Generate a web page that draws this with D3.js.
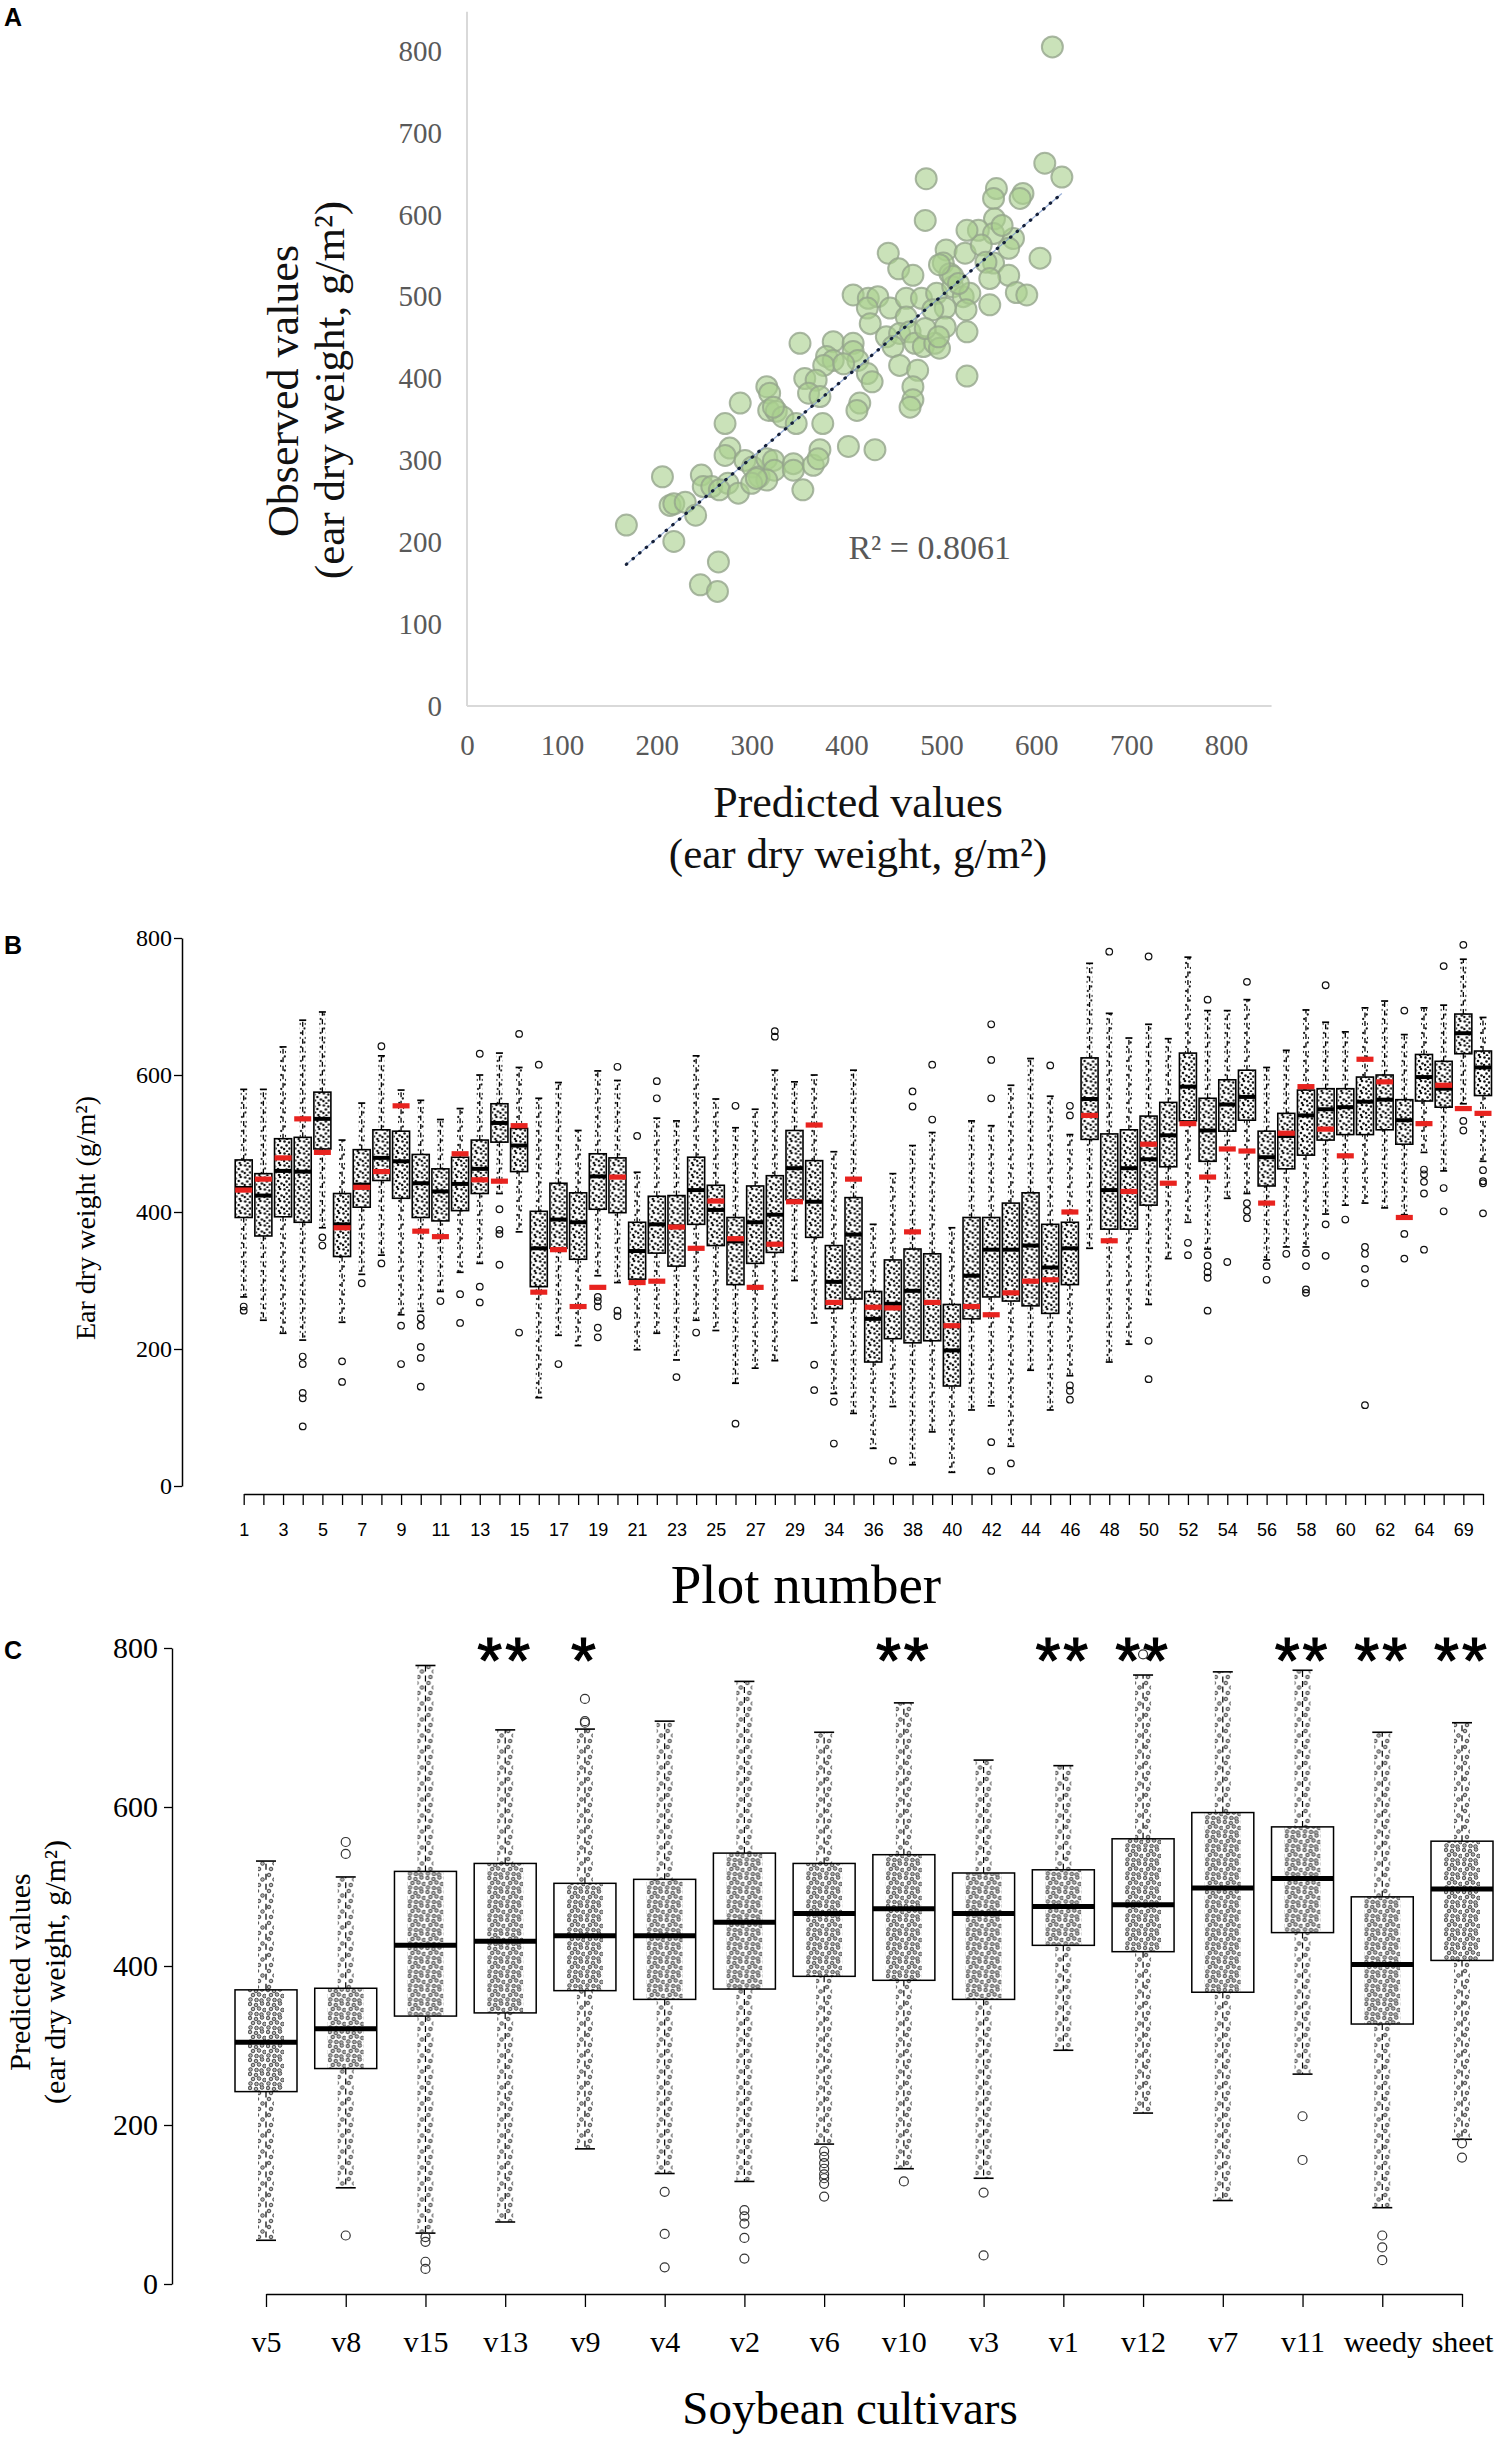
<!DOCTYPE html>
<html><head><meta charset="utf-8">
<script src="https://cdn.jsdelivr.net/npm/d3@7"></script>
<style>body{margin:0;background:#fff} svg{display:block}</style>
</head><body>
<svg id="chart" width="1501" height="2439"></svg>
<script>
// ================= DATA =================
// Panel A: predicted vs observed (ear dry weight, g/m2)
const predX = [609,627,484,558,555,586,583,483,556,539,555,576,571,604,444,505,525,555,455,470,502,509,571,579,590,551,407,423,433,422,446,463,479,495,512,523,530,526,504,491,425,463,504,527,351,386,407,379,386,376,407,412,422,427,442,456,449,467,472,481,493,498,456,475,470,470,467,527,356,368,360,372,316,319,318,326,333,288,414,411,347,375,272,402,430,277,272,293,301,308,316,323,324,316,344,344,365,372,370,354,206,247,249,258,275,266,286,300,305,214,218,230,241,168,218,265,246,264,512,518,498,542,547,551,564,527,483,497,397,323,617];
const obsY  = [663,646,644,632,620,626,620,593,595,581,577,571,559,547,553,557,553,541,534,526,541,528,526,505,502,490,502,498,500,486,486,498,498,504,512,500,504,484,486,484,467,475,463,457,443,445,443,427,422,416,433,422,406,396,451,455,439,457,443,439,443,437,416,410,390,374,365,403,400,398,382,378,390,382,361,360,353,370,370,361,345,345,345,317,313,315,306,300,292,280,302,300,288,276,296,288,294,313,302,264,280,282,268,268,272,264,260,272,278,245,247,249,233,221,201,176,148,140,525,516,539,563,542,522,587,581,461,451,418,365,805];
const trendX = [168, 627];
const trendY = [173, 626];
const r2Label = "R\u00B2 = 0.8061";
const r2Pos = [402, 194];
const aTicks = [0,100,200,300,400,500,600,700,800];
const aAxisMax = 848;

// Panel B: boxplots per plot number
const bPlots = ["1","2","3","4","5","6","7","8","9","10","11","12","13","14","15","16","17","18","19","20","21","22","23","24","25","26","27","28","29","30","34","35","36","37","38","39","40","41","42","43","44","45","46","47","48","49","50","51","52","53","54","55","56","57","58","59","60","61","62","63","64","65","69","70"];
const bLow  = [276,242,223,213,377,239,309,337,250,255,284,312,325,427,371,129,220,205,307,297,199,223,184,242,227,150,172,183,300,238,135,106,55,116,31,79,20,111,117,58,169,111,161,347,181,207,265,332,385,346,420,427,330,349,349,397,410,413,406,396,487,460,558,474];
const bQ1   = [392,365,393,385,492,335,407,446,420,392,387,402,427,502,459,291,347,331,404,399,302,340,321,382,351,294,325,341,418,363,259,273,181,215,209,212,146,244,276,270,263,252,294,506,375,375,410,466,533,474,518,534,438,463,483,505,513,513,520,499,562,553,631,570];
const bMed  = [435,424,460,459,536,382,440,479,474,442,430,441,463,530,497,347,389,385,452,451,343,382,379,432,403,357,385,396,464,415,298,367,244,266,285,268,198,307,345,345,351,319,347,565,432,464,477,512,583,519,557,568,480,511,541,550,553,561,564,534,597,580,661,611];
const bQ3   = [476,456,507,509,575,427,491,520,518,484,463,480,505,558,522,401,442,428,485,479,385,423,424,480,439,392,438,453,519,475,351,421,284,330,346,339,265,392,392,413,428,382,385,625,514,520,540,560,632,566,593,607,518,544,578,580,580,597,600,564,630,620,689,635];
const bHigh = [579,579,641,680,692,505,559,628,578,563,535,551,600,632,611,566,589,519,606,592,458,537,533,628,565,523,550,607,590,600,488,607,382,456,497,516,377,533,526,585,624,569,513,763,690,654,674,653,772,694,694,710,611,636,695,677,663,698,708,659,698,702,769,684];
const bRed  = [432,448,479,536,487,377,436,459,555,372,364,485,447,445,526,283,345,262,290,451,297,299,378,347,416,361,290,353,415,527,268,448,261,260,371,268,234,262,250,282,299,301,400,541,358,430,499,442,529,451,492,489,413,515,583,521,482,623,590,392,529,585,551,544];
const bOut  = [[262,256],[],[],[189,178,136,128,87],[363,351],[182,152],[296],[642,325],[234,178],[245,234,203,187,145],[270],[280,238],[631,291,268],[404,374,368,323],[660,224],[615],[178],[],[276,270,262,231,217],[612,256,248],[511],[591,566],[159],[224],[],[555,91],[],[664,656],[],[177,140],[123,62],[],[],[37],[576,554],[615,535],[],[],[674,622,566,64,22],[33],[],[614],[555,541,147,139,126],[],[780],[],[773,212,156],[],[355,337],[710,337,321,312,304,256],[327],[736,413,402,391],[321,301],[339],[340,321,287,282],[731,382,336],[389],[349,339,317,296,118],[],[694,368,332],[462,455,444,427,345],[759,435,401],[790,533,519],[461,445,442,398]];
const bTicks = [0,200,400,600,800];

// Panel C: boxplots per soybean cultivar
const cultivars = ["v5","v8","v15","v13","v9","v4","v2","v6","v10","v3","v1","v12","v7","v11","weedy","sheet"];
const cLow  = [55,121,64,78,170,139,129,176,145,133,294,215,105,264,96,182];
const cQ1   = [242,271,337,341,369,358,371,387,382,358,426,418,367,442,327,407];
const cMed  = [304,321,426,431,438,438,455,466,472,466,475,477,498,510,402,497];
const cQ3   = [370,372,519,529,504,509,542,529,540,517,521,560,593,575,487,557];
const cHigh = [532,512,778,697,698,708,758,694,731,659,652,766,770,772,694,706];
const cOut  = [[],[556,541,61],[59,53,28,19],[],[736,708,706],[116,63,21],[93,85,76,58,32],[167,160,152,145,138,133,126,110],[129],[115,36],[],[792],[],[211,156],[61,46,30],[177,159]];
const cSig  = ["","","","**","*","","","","**","","**","**","","**","**","**"];
const cTicks = [0,200,400,600,800];

// ================= DRAW =================
const serif = "'Liberation Serif','Times New Roman',serif";
const sans = "'Liberation Sans',Arial,sans-serif";
const svg = d3.select("#chart");
const defs = svg.append("defs");

// textures standing in for the dense jittered raw points (style only)
function pattern(id, w, h, pts, r, fill, stroke, sw) {
  const p = defs.append("pattern").attr("id", id).attr("patternUnits", "userSpaceOnUse")
    .attr("width", w).attr("height", h);
  pts.forEach(([x, y]) => p.append("circle").attr("cx", x).attr("cy", y).attr("r", r)
    .attr("fill", fill).attr("stroke", stroke).attr("stroke-width", sw));
}
pattern("jitB", 14, 12, [[1.5,1.5],[6,2.5],[11,1],[3.5,5.5],[9,5],[12.5,7.5],[1,9],[6.5,8.5],[10,11],[4,11.5]], 1.3, "#111", "none", 0);
pattern("jitBs", 6, 14, [[3,2],[1.8,6.5],[4.2,11]], 1.15, "#111", "none", 0);
pattern("jitC", 18, 14, [[2,2],[8,3],[14,1.5],[5,7],[11,6.5],[16.5,8],[2.5,11.5],[8.5,12],[13.5,12.5]], 1.8, "#b4b4b4", "#3a3a3a", 0.9);
pattern("jitCs", 12, 16, [[3,3],[8.5,7.5],[5,13]], 1.8, "#b4b4b4", "#3a3a3a", 0.9);

// panel letters
[["A",26],["B",954],["C",1659]].forEach(([t,y]) =>
  svg.append("text").attr("x", 4).attr("y", y).text(t)
    .attr("font-family", sans).attr("font-weight", "bold").attr("font-size", 25));

// ---------- Panel A ----------
const xA = d3.scaleLinear().domain([0,800]).range([467,1226]);
const yA = d3.scaleLinear().domain([0,800]).range([706,51]);
const gA = svg.append("g");
gA.append("line").attr("x1", xA(0)).attr("x2", xA(0)).attr("y1", yA(0)).attr("y2", yA(aAxisMax))
  .attr("stroke", "#d9d9d9").attr("stroke-width", 2);
gA.append("line").attr("x1", xA(0)).attr("x2", xA(aAxisMax)).attr("y1", yA(0)).attr("y2", yA(0))
  .attr("stroke", "#d9d9d9").attr("stroke-width", 2);
const axYA = gA.append("g").attr("transform", `translate(${xA(0)},0)`)
  .call(d3.axisLeft(yA).tickValues(aTicks).tickSize(0).tickPadding(25));
axYA.select(".domain").remove();
axYA.selectAll("text").attr("font-family", serif).attr("font-size", 29).attr("fill", "#595959");
const axXA = gA.append("g").attr("transform", `translate(0,${yA(0)})`)
  .call(d3.axisBottom(xA).tickValues(aTicks).tickSize(0));
axXA.select(".domain").remove();
axXA.selectAll("text").attr("y", 39).attr("dy", "0.35em")
  .attr("font-family", serif).attr("font-size", 29).attr("fill", "#595959");

gA.selectAll("circle.pt").data(predX.map((x, i) => ({x, y: obsY[i]}))).join("circle")
  .attr("class", "pt").attr("cx", d => xA(d.x)).attr("cy", d => yA(d.y)).attr("r", 10.5)
  .attr("fill", "#a9d18e").attr("fill-opacity", 0.62)
  .attr("stroke", "#95a58c").attr("stroke-opacity", 0.8).attr("stroke-width", 2);

gA.append("line").attr("x1", xA(trendX[0])).attr("y1", yA(trendY[0]))
  .attr("x2", xA(trendX[1])).attr("y2", yA(trendY[1]))
  .attr("stroke", "#6f8fc8").attr("stroke-width", 1.2).attr("stroke-opacity", 0.7);
gA.append("line").attr("x1", xA(trendX[0])).attr("y1", yA(trendY[0]))
  .attr("x2", xA(trendX[1])).attr("y2", yA(trendY[1]))
  .attr("stroke", "#15203a").attr("stroke-width", 3.2)
  .attr("stroke-dasharray", "0.5 8.2").attr("stroke-linecap", "round");

gA.append("text").attr("x", xA(r2Pos[0])).attr("y", yA(r2Pos[1])).attr("dy", "0.35em")
  .text(r2Label).attr("font-family", serif).attr("font-size", 34).attr("fill", "#595959");

gA.append("text").attr("transform", "translate(298,391) rotate(-90)").attr("text-anchor", "middle")
  .text("Observed values").attr("font-family", serif).attr("font-size", 44).attr("fill", "#111");
gA.append("text").attr("transform", "translate(344,390) rotate(-90)").attr("text-anchor", "middle")
  .text("(ear dry weight, g/m\u00B2)").attr("font-family", serif).attr("font-size", 43).attr("fill", "#111");
gA.append("text").attr("x", 858).attr("y", 817).attr("text-anchor", "middle")
  .text("Predicted values").attr("font-family", serif).attr("font-size", 44).attr("fill", "#111");
gA.append("text").attr("x", 858).attr("y", 868).attr("text-anchor", "middle")
  .text("(ear dry weight, g/m\u00B2)").attr("font-family", serif).attr("font-size", 43).attr("fill", "#111");

// ---------- generic boxplot drawer ----------
function drawBoxes(g, rows, x, y, o) {
  const grp = g.selectAll("g.box").data(rows).join("g").attr("class", "box")
    .attr("transform", d => `translate(${x(d.k)},0)`);
  grp.append("rect").attr("x", -o.sw / 2).attr("width", o.sw)
    .attr("y", d => y(d.hi)).attr("height", d => y(d.lo) - y(d.hi)).attr("fill", `url(#${o.sparse})`);
  grp.append("line").attr("y1", d => y(d.q3)).attr("y2", d => y(d.hi))
    .attr("stroke", "#000").attr("stroke-width", o.lw).attr("stroke-dasharray", o.dash);
  grp.append("line").attr("y1", d => y(d.q1)).attr("y2", d => y(d.lo))
    .attr("stroke", "#000").attr("stroke-width", o.lw).attr("stroke-dasharray", o.dash);
  grp.append("line").attr("x1", -o.cap / 2).attr("x2", o.cap / 2).attr("y1", d => y(d.hi)).attr("y2", d => y(d.hi))
    .attr("stroke", "#000").attr("stroke-width", o.lw + 0.4);
  grp.append("line").attr("x1", -o.cap / 2).attr("x2", o.cap / 2).attr("y1", d => y(d.lo)).attr("y2", d => y(d.lo))
    .attr("stroke", "#000").attr("stroke-width", o.lw + 0.4);
  grp.append("rect").attr("x", -o.bw / 2).attr("width", o.bw)
    .attr("y", d => y(d.q3)).attr("height", d => y(d.q1) - y(d.q3)).attr("fill", "#fff");
  grp.append("rect").attr("x", -o.iw / 2).attr("width", o.iw)
    .attr("y", d => y(d.q3)).attr("height", d => y(d.q1) - y(d.q3)).attr("fill", `url(#${o.dense})`);
  grp.append("rect").attr("x", -o.bw / 2).attr("width", o.bw)
    .attr("y", d => y(d.q3)).attr("height", d => y(d.q1) - y(d.q3))
    .attr("fill", "none").attr("stroke", "#000").attr("stroke-width", o.lw + 0.3);
  grp.append("line").attr("x1", -o.bw / 2).attr("x2", o.bw / 2).attr("y1", d => y(d.med)).attr("y2", d => y(d.med))
    .attr("stroke", "#000").attr("stroke-width", o.medw);
  grp.selectAll("circle.out").data(d => d.out).join("circle").attr("class", "out")
    .attr("cy", v => y(v)).attr("r", o.or).attr("fill", "none").attr("stroke", o.ostroke).attr("stroke-width", 1.2);
  return grp;
}

// ---------- Panel B ----------
const yB = d3.scaleLinear().domain([0,800]).range([1486,938]);
const xB = d3.scalePoint().domain(bPlots).range([243.7,1483]);
const gB = svg.append("g");
const rowsB = bPlots.map((k, i) => ({k, lo: bLow[i], q1: bQ1[i], med: bMed[i], q3: bQ3[i], hi: bHigh[i], red: bRed[i], out: bOut[i]}));
const grpB = drawBoxes(gB, rowsB, xB, yB, {bw: 17, iw: 15, sw: 6, cap: 7, lw: 1.3, dash: "5 3.5", medw: 4, or: 3.3, ostroke: "#111", dense: "jitB", sparse: "jitBs"});
grpB.append("rect").attr("x", -8.5).attr("width", 17).attr("y", d => yB(d.red) - 2.6).attr("height", 5.2).attr("fill", "#e8231f");

const axYB = gB.append("g").attr("transform", "translate(182,0)")
  .call(d3.axisLeft(yB).tickValues(bTicks).tickSize(8).tickSizeOuter(0).tickPadding(2));
axYB.select(".domain").attr("stroke-width", 1.5);
axYB.selectAll(".tick line").attr("stroke-width", 1.3);
axYB.selectAll("text").attr("font-family", serif).attr("font-size", 24).attr("fill", "#000");
const axXB = gB.append("g").attr("transform", "translate(0,1494)")
  .call(d3.axisBottom(xB).tickSize(11).tickSizeOuter(0).tickFormat((d, i) => i % 2 === 0 ? d : ""));
axXB.select(".domain").attr("stroke-width", 1.6);
axXB.selectAll(".tick line").attr("stroke-width", 1.3);
axXB.selectAll("text").attr("y", 36).attr("dy", "0.35em").attr("font-family", sans).attr("font-size", 18).attr("fill", "#000");
gB.append("text").attr("transform", "translate(95,1218) rotate(-90)").attr("text-anchor", "middle")
  .text("Ear dry weight (g/m\u00B2)").attr("font-family", serif).attr("font-size", 28);
gB.append("text").attr("x", 806).attr("y", 1603).attr("text-anchor", "middle")
  .text("Plot number").attr("font-family", serif).attr("font-size", 55);

// ---------- Panel C ----------
const yC = d3.scaleLinear().domain([0,800]).range([2284,1648]);
const xC = d3.scalePoint().domain(cultivars).range([266,1462]);
const gC = svg.append("g");
const rowsC = cultivars.map((k, i) => ({k, lo: cLow[i], q1: cQ1[i], med: cMed[i], q3: cQ3[i], hi: cHigh[i], out: cOut[i], sig: cSig[i]}));
const grpC = drawBoxes(gC, rowsC, xC, yC, {bw: 62, iw: 36, sw: 16, cap: 20, lw: 1.2, dash: "6 4", medw: 5, or: 4.5, ostroke: "#333", dense: "jitC", sparse: "jitCs"});
grpC.append("text").attr("y", 1683).attr("text-anchor", "middle").text(d => d.sig)
  .attr("font-family", sans).attr("font-size", 64).attr("letter-spacing", 3)
  .attr("stroke", "#000").attr("stroke-width", 1.2);

const axYC = gC.append("g").attr("transform", "translate(172,0)")
  .call(d3.axisLeft(yC).tickValues(cTicks).tickSize(8).tickSizeOuter(0).tickPadding(6));
axYC.select(".domain").attr("stroke-width", 1.4);
axYC.selectAll(".tick line").attr("stroke-width", 1.3);
axYC.selectAll("text").attr("font-family", serif).attr("font-size", 30).attr("fill", "#000");
const axXC = gC.append("g").attr("transform", "translate(0,2294)")
  .call(d3.axisBottom(xC).tickSize(13).tickSizeOuter(0));
axXC.select(".domain").attr("stroke-width", 1.6);
axXC.selectAll(".tick line").attr("stroke-width", 1.3);
axXC.selectAll("text").attr("y", 47).attr("dy", "0.35em").attr("font-family", serif).attr("font-size", 30).attr("fill", "#000");
gC.append("text").attr("transform", "translate(30,1972) rotate(-90)").attr("text-anchor", "middle")
  .text("Predicted values").attr("font-family", serif).attr("font-size", 30);
gC.append("text").attr("transform", "translate(65,1972) rotate(-90)").attr("text-anchor", "middle")
  .text("(ear dry weight, g/m\u00B2)").attr("font-family", serif).attr("font-size", 30);
gC.append("text").attr("x", 850).attr("y", 2424).attr("text-anchor", "middle")
  .text("Soybean cultivars").attr("font-family", serif).attr("font-size", 47);
</script>
</body></html>
